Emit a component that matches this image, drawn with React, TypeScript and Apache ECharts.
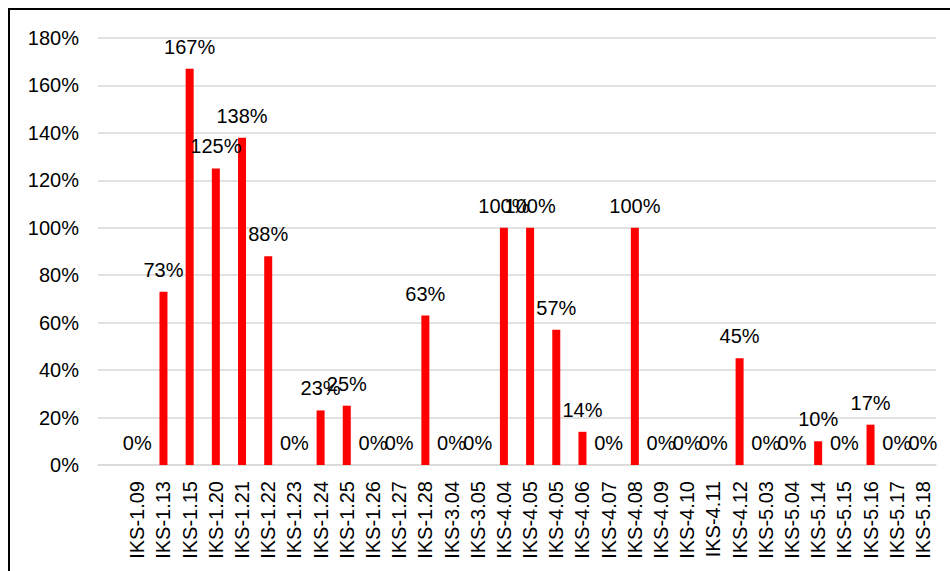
import React, { useEffect, useRef } from "react";
import * as echarts from "echarts";

const categories: string[] = [
  "", "IKS-1.09", "IKS-1.13", "IKS-1.15", "IKS-1.20", "IKS-1.21", "IKS-1.22", "IKS-1.23",
  "IKS-1.24", "IKS-1.25", "IKS-1.26", "IKS-1.27", "IKS-1.28", "IKS-3.04", "IKS-3.05",
  "IKS-4.04", "IKS-4.05", "IKS-4.05", "IKS-4.06", "IKS-4.07", "IKS-4.08", "IKS-4.09",
  "IKS-4.10", "IKS-4.11", "IKS-4.12", "IKS-5.03", "IKS-5.04", "IKS-5.14", "IKS-5.15",
  "IKS-5.16", "IKS-5.17", "IKS-5.18",
];

const values: (number | null)[] = [
  null, 0, 73, 167, 125, 138, 88, 0, 23, 25, 0, 0, 63, 0, 0,
  100, 100, 57, 14, 0, 100, 0, 0, 0, 45, 0, 0, 10, 0, 17, 0, 0,
];

const yTicks = { min: 0, max: 180, interval: 20 };

const FONT = '"Liberation Sans", Arial, sans-serif';

export default function App() {
  const ref = useRef<HTMLDivElement>(null);

  useEffect(() => {
    if (!ref.current) return;
    const chart = echarts.init(ref.current, undefined, { renderer: "svg" });
    chart.setOption({
      animation: false,
      backgroundColor: "#ffffff",
      textStyle: { fontFamily: FONT },
      grid: { left: 98, right: 14, top: 38, bottom: 106, containLabel: false },
      xAxis: {
        type: "category",
        data: categories,
        axisTick: { show: false },
        axisLine: { show: true, lineStyle: { color: "#d9d9d9", width: 1.5 } },
        axisLabel: {
          rotate: 90,
          interval: 0,
          margin: 16,
          color: "#000000",
          fontSize: 20,
          fontFamily: FONT,
        },
      },
      yAxis: {
        type: "value",
        min: yTicks.min,
        max: yTicks.max,
        interval: yTicks.interval,
        axisLine: { show: false },
        axisTick: { show: false },
        splitLine: { show: true, lineStyle: { color: "#d9d9d9", width: 1.5 } },
        axisLabel: {
          formatter: "{value}%",
          color: "#000000",
          fontSize: 20,
          margin: 19,
          fontFamily: FONT,
        },
      },
      series: [
        {
          type: "bar",
          data: values.map((v) => (v === null ? "-" : v)),
          barWidth: 8,
          itemStyle: { color: "#ff0000" },
          label: {
            show: true,
            position: "top",
            distance: 12,
            formatter: "{c}%",
            color: "#000000",
            fontSize: 20,
            fontFamily: FONT,
          },
        },
      ],
    });
    return () => chart.dispose();
  }, []);

  return (
    <div style={{ position: "fixed", left: 0, top: 0, width: 950, height: 571, overflow: "hidden", background: "#fff" }}>
      <div ref={ref} style={{ position: "absolute", left: 0, top: 0, width: 950, height: 571 }} />
      <div
        style={{
          position: "absolute",
          left: 8,
          top: 8,
          width: 1000,
          height: 1000,
          borderLeft: "2px solid #000",
          borderTop: "2px solid #000",
          pointerEvents: "none",
        }}
      />
    </div>
  );
}
